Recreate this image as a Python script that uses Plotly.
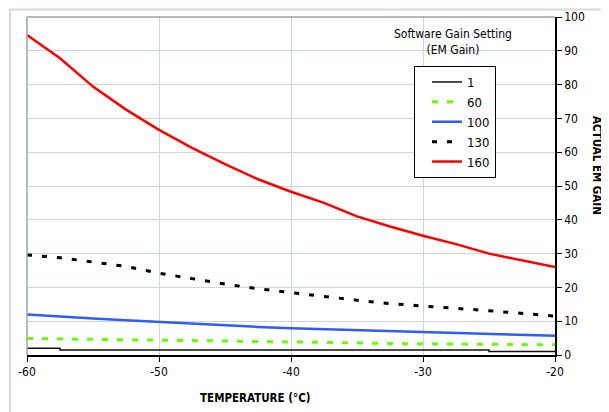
import plotly.graph_objects as go

temperature = [-60, -57.5, -55, -52.5, -50, -47.5, -45, -42.5, -40,
               -37.5, -35, -32.5, -30, -27.5, -25, -22.5, -20]
gain_1 = [2.0, 1.5, 1.5, 1.5, 1.5, 1.5, 1.5, 1.5, 1.5,
          1.5, 1.5, 1.5, 1.5, 1.5, 1.0, 1.0, 1.0]
gain_60 = [4.9, 4.7, 4.6, 4.5, 4.4, 4.3, 4.2, 4.1, 4.0,
           3.8, 3.6, 3.4, 3.3, 3.2, 3.1, 3.0, 3.0]
gain_100 = [12.0, 11.3, 10.8, 10.3, 9.8, 9.1, 8.7, 8.3, 7.9,
            7.6, 7.3, 7.0, 6.9, 6.5, 6.1, 5.8, 5.7]
gain_130 = [29.6, 28.8, 27.5, 26.2, 24.2, 22.5, 21.0, 19.6, 18.4,
            17.2, 16.2, 15.2, 14.4, 13.8, 13.1, 12.2, 11.5]
gain_160 = [94.7, 87.8, 79.4, 72.6, 66.6, 61.3, 56.5, 52.0, 48.3,
            45.0, 41.0, 38.0, 35.3, 32.8, 30.0, 28.0, 26.0]

series_names = ["1", "60", "100", "130", "160"]
x_ticks = [-60, -50, -40, -30, -20]
y_ticks = [0, 10, 20, 30, 40, 50, 60, 70, 80, 90, 100]

FONT = "DejaVu Sans Condensed, Liberation Sans Narrow, Roboto, sans-serif"

fig = go.Figure()
fig.add_trace(go.Scatter(x=temperature, y=gain_1, name=series_names[0], mode="lines",
                         line=dict(color="#111111", width=1.5, shape="hv")))
fig.add_trace(go.Scatter(x=temperature, y=gain_60, name=series_names[1], mode="lines",
                         line=dict(color="#66ff00", width=3, dash="6px,9px")))
fig.add_trace(go.Scatter(x=temperature, y=gain_100, name=series_names[2], mode="lines",
                         line=dict(color="#2f5cff", width=2.5)))
fig.add_trace(go.Scatter(x=temperature, y=gain_130, name=series_names[3], mode="lines",
                         line=dict(color="#000000", width=3, dash="5px,10px")))
fig.add_trace(go.Scatter(x=temperature, y=gain_160, name=series_names[4], mode="lines",
                         line=dict(color="#ff0000", width=2.5)))

# page pixel layout (page body has an 8px margin)
OFF = 8
PAGE_W, PAGE_H = 609, 412
W, H = PAGE_W - OFF, PAGE_H - OFF
PL, PR, PT, PB = 27, 555, 17, 355          # plot area in page pixels
L, T = PL - OFF, PT - OFF
R, B = PAGE_W - PR, PAGE_H - PB
pw, ph = PR - PL, PB - PT

def px_x(p):
    return (p - PL) / pw

def px_y(p):
    return (PB - p) / ph

fig.update_layout(
    width=W, height=H,
    margin=dict(l=L, r=R, t=T, b=B, autoexpand=False),
    paper_bgcolor="white", plot_bgcolor="white",
    font=dict(family=FONT, size=12, color="#000000"),
    showlegend=True,
    legend=dict(x=px_x(414), y=px_y(66), xanchor="left", yanchor="top",
                bordercolor="#000000", borderwidth=1, bgcolor="white",
                font=dict(family=FONT, size=13), indentation=12,
                traceorder="normal"),
    xaxis=dict(range=[-60, -20], tickvals=x_ticks, ticktext=[str(v) for v in x_ticks],
               showgrid=True, gridcolor="#cdd7d7", gridwidth=1,
               showline=True, linecolor="#000000", linewidth=1.5,
               ticks="outside", ticklen=5, tickcolor="#000000",
               zeroline=False, tickfont=dict(family=FONT, size=12)),
    yaxis=dict(range=[0, 100], tickvals=y_ticks, side="right",
               showgrid=True, gridcolor="#cdd7d7", gridwidth=1,
               showline=True, linecolor="#000000", linewidth=1.5,
               ticks="outside", ticklen=5, tickcolor="#000000",
               zeroline=False, tickfont=dict(family=FONT, size=12)),
    shapes=[
        dict(type="rect", xref="paper", yref="paper",
             x0=px_x(10), x1=px_x(640), y0=px_y(440), y1=px_y(9.5),
             line=dict(color="#d3dada", width=2), layer="below"),
        dict(type="line", xref="paper", yref="paper", x0=0, x1=0, y0=0, y1=1,
             line=dict(color="#9aa4a4", width=1.5)),
        dict(type="line", xref="paper", yref="paper", x0=0, x1=1, y0=1, y1=1,
             line=dict(color="#9aa4a4", width=1.5)),
    ],
    annotations=[
        dict(text="Software Gain Setting<br>(EM Gain)", xref="paper", yref="paper",
             x=px_x(453), y=px_y(25), xanchor="center", yanchor="top",
             showarrow=False, align="center",
             font=dict(family=FONT, size=12, color="#000000")),
        dict(text="<b>TEMPERATURE (°C)</b>", xref="paper", yref="paper",
             x=px_x(255), y=px_y(398), xanchor="center", yanchor="middle",
             showarrow=False, font=dict(family=FONT, size=11.5, color="#000000")),
        dict(text="<b>ACTUAL EM GAIN</b>", xref="paper", yref="paper",
             x=px_x(597), y=px_y(165), xanchor="center", yanchor="middle",
             textangle=90, showarrow=False,
             font=dict(family=FONT, size=11.5, color="#000000")),
    ],
)

fig.write_html("out.html")
